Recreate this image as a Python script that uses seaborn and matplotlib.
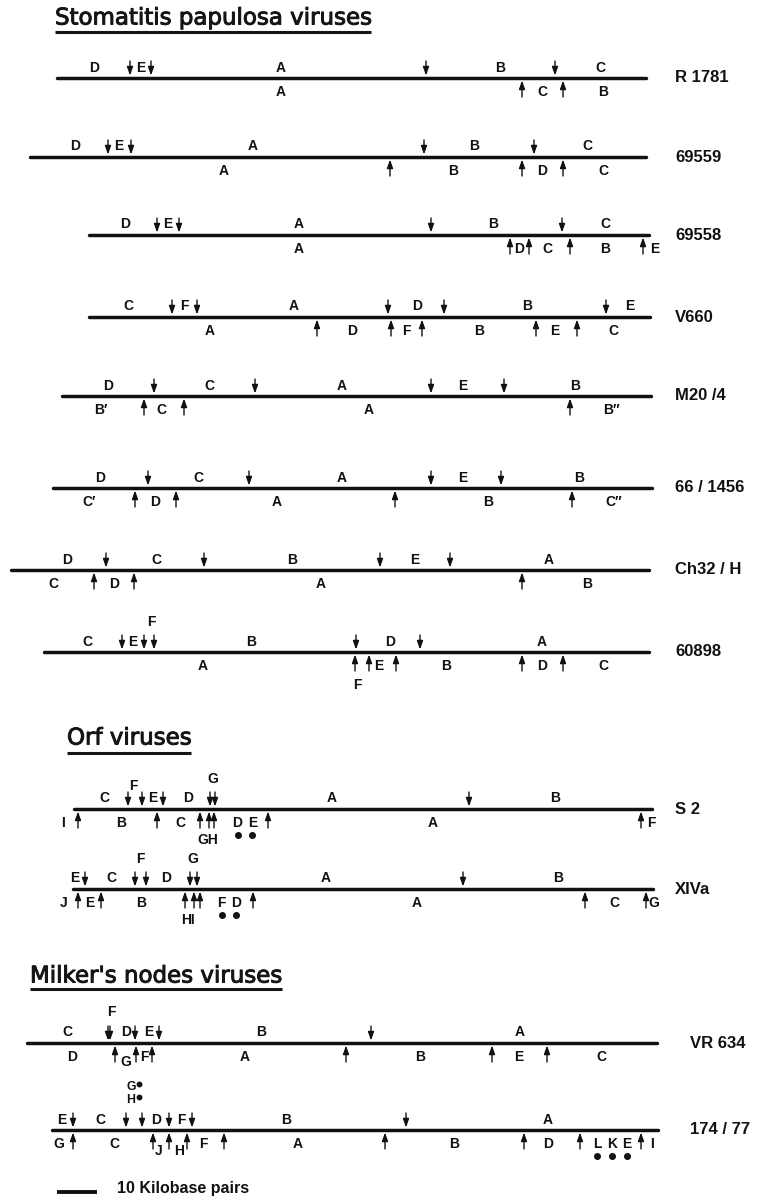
import matplotlib
matplotlib.use("Agg")
import matplotlib.pyplot as plt
import matplotlib.patheffects as pe
import seaborn as sns
import pandas as pd

# ---------------- data (map positions in kilobase pairs) ----------------
names = ["R 1781", "69559", "69558", "V660", "M20 /4", "66 / 1456", "Ch32 / H", "60898",
         "S 2", "XIVa", "VR 634", "174 / 77"]
groups = ["Stomatitis papulosa viruses", "Orf viruses", "Milker's nodes viruses"]
group_of = [0, 0, 0, 0, 0, 0, 0, 0, 1, 1, 2, 2]

spans = [(14.25, 161.5), (7.5, 161.5), (22.25, 162.25), (22.25, 162.5), (15.5, 162.75),
         (13.25, 163.0), (2.75, 162.25), (11.0, 162.25), (18.5, 163.0), (18.25, 163.25),
         (6.75, 164.25), (13.0, 164.5)]

# enzyme 1 cleavage sites (drawn above the line, arrows pointing down)
top_cuts = [
    [32.5, 37.75, 106.5, 138.75],
    [27.0, 32.75, 106.0, 133.5],
    [39.25, 44.75, 107.75, 140.5],
    [43.0, 49.25, 97.0, 111.0, 151.5],
    [38.5, 63.75, 107.75, 126.0],
    [37.0, 62.25, 107.75, 125.25],
    [26.5, 51.0, 95.0, 112.5],
    [30.5, 36.0, 38.5, 89.0, 105.0],
    [32.0, 35.5, 40.75, 52.5, 53.75, 117.25],
    [21.25, 33.75, 36.5, 47.5, 49.25, 115.75],
    [27.0, 27.5, 33.75, 39.75, 92.75],
    [18.25, 31.5, 35.5, 42.25, 48.0, 101.5],
]
# fragment names: (text, position, level, dots)
top_labels = [
    [("D", 23.5), ("E", 35.25), ("A", 70.25), ("B", 125.0), ("C", 150.0)],
    [("D", 18.75), ("E", 29.75), ("A", 63.25), ("B", 118.5), ("C", 146.75)],
    [("D", 31.25), ("E", 42.0), ("A", 74.75), ("B", 123.25), ("C", 151.25)],
    [("C", 32.0), ("F", 46.0), ("A", 73.5), ("D", 104.25), ("B", 131.75), ("E", 157.5)],
    [("D", 27.0), ("C", 52.25), ("A", 85.5), ("E", 115.75), ("B", 143.75)],
    [("D", 25.0), ("C", 49.5), ("A", 85.5), ("E", 115.75), ("B", 144.75)],
    [("D", 16.75), ("C", 39.0), ("B", 73.0), ("E", 103.75), ("A", 137.25)],
    [("C", 21.75), ("E", 33.25), ("F", 37.75, 1.4), ("B", 62.75), ("D", 97.5), ("A", 135.5)],
    [("C", 26.0), ("F", 33.25, 0.9), ("E", 38.25), ("D", 47.0), ("G", 53.25, 1.4),
     ("A", 83.0), ("B", 138.75)],
    [("E", 18.75), ("C", 27.75), ("F", 35.0, 1.4), ("D", 41.5), ("G", 48.25, 1.4),
     ("A", 81.5), ("B", 139.5)],
    [("C", 16.75), ("F", 27.75, 1.5), ("D", 31.5), ("E", 37.25), ("B", 65.25), ("A", 130.0)],
    [("E", 15.5), ("C", 25.0), ("G", 32.75, 2.35, "right"), ("H", 32.75, 1.4, "right"),
     ("D", 39.0), ("F", 45.25), ("B", 71.5), ("A", 137.0)],
]

# enzyme 2 cleavage sites (drawn below the line, arrows pointing up)
bot_cuts = [
    [130.5, 140.75],
    [97.5, 130.5, 140.75],
    [127.5, 132.25, 142.5, 160.75],
    [79.25, 97.75, 105.5, 134.0, 144.25],
    [36.0, 46.0, 142.5],
    [33.75, 44.0, 98.75, 143.0],
    [23.5, 33.5, 130.5],
    [88.75, 92.25, 99.0, 130.5, 140.75],
    [19.5, 39.25, 50.0, 52.25, 53.5, 67.0, 160.25],
    [19.5, 25.25, 46.25, 48.5, 50.0, 63.25, 146.25, 161.5],
    [28.75, 34.0, 38.0, 86.5, 123.0, 136.75],
    [18.25, 38.25, 42.25, 46.75, 56.0, 96.25, 131.0, 145.0, 160.25],
]
bot_labels = [
    [("A", 70.25), ("C", 135.5), ("B", 150.75)],
    [("A", 56.0), ("B", 113.25), ("D", 135.5), ("C", 150.75)],
    [("A", 74.75), ("D", 129.75), ("C", 136.75), ("B", 151.25), ("E", 163.6)],
    [("A", 52.5), ("D", 88.0), ("F", 101.5), ("B", 119.75), ("E", 138.75), ("C", 153.25)],
    [("B\u2032", 25.25), ("C", 40.25), ("A", 92.25), ("B\u2033", 152.75)],
    [("C\u2032", 22.25), ("D", 38.75), ("A", 69.25), ("B", 122.0), ("C\u2033", 153.5)],
    [("C", 13.25), ("D", 28.5), ("A", 80.25), ("B", 146.75)],
    [("A", 50.75), ("F", 89.25, 1.1), ("E", 94.75), ("B", 111.5), ("D", 135.5), ("C", 150.75)],
    [("I", 15.75), ("B", 30.25), ("C", 45.0), ("GH", 52.0, 1.0), ("DE", 61.25, 0, "below"),
     ("A", 108.25), ("F", 162.75)],
    [("J", 16.0), ("E", 22.5), ("B", 35.25), ("HI", 47.0, 1.0), ("FD", 57.25, 0, "below"),
     ("A", 104.25), ("C", 153.5), ("G", 163.4)],
    [("D", 18.0), ("G", 31.5, 0.3), ("F", 36.0), ("A", 61.25), ("B", 105.0), ("E", 129.75),
     ("C", 150.25)],
    [("G", 14.75), ("C", 28.5), ("J", 39.75, 0.4), ("H", 44.75, 0.4), ("F", 50.75),
     ("A", 74.5), ("B", 113.5), ("D", 137.0), ("LKE", 153.0, 0, "below"), ("I", 163.0)],
]

scale_kbp = 10
scale_label = "10 Kilobase pairs"

# ---------------- layout ----------------
row_y = [78, 157, 235, 317, 396, 488, 570, 652, 809, 889, 1043, 1130]
name_x = [168.75] * 10 + [172.5, 172.5]
header_pos = [(13.75, 18), (16.75, 738), (7.5, 976)]
underline_y = [32, 753, 989]
scale_pos = (14.25, 1192)
KBP_W = 194.0  # axis width in kbp (776 px)
SPREAD = 3.7   # kbp between letters of a dotted (unresolved) label group

sns.set_theme(style="white")
plt.rcParams["font.family"] = ["Liberation Sans", "DejaVu Sans"]

fig = plt.figure(figsize=(7.76, 12), dpi=100)
ax = fig.add_axes([0, 0, 1, 1])

# genome lines via seaborn
rows = []
for n, (a, b), y in zip(names, spans, row_y):
    rows.append({"virus": n, "kbp": a, "y": y})
    rows.append({"virus": n, "kbp": b, "y": y})
df = pd.DataFrame(rows)
sns.lineplot(data=df, x="kbp", y="y", units="virus", estimator=None, sort=False,
             color="#111111", linewidth=2.5, legend=False, ax=ax)

arrow_style = dict(arrowstyle="-|>,head_length=0.42,head_width=0.15", lw=1.0,
                   color="#111111", shrinkA=0, shrinkB=0)


def draw_arrow(x, y, up):
    if up:
        tail, tip = y + 19, y + 2.5
    else:
        tail, tip = y - 17, y - 2.5
    ax.annotate("", xy=(x, tip), xytext=(x, tail), arrowprops=arrow_style)


frag_font = dict(fontsize=10, fontweight="bold", ha="center", va="center", color="#111111")

for i, y in enumerate(row_y):
    for c in top_cuts[i]:
        draw_arrow(c, y, up=False)
    for c in bot_cuts[i]:
        draw_arrow(c, y, up=True)
    for lab in top_labels[i]:
        txt, pos = lab[0], lab[1]
        lvl = lab[2] if len(lab) > 2 else 0
        dots = lab[3] if len(lab) > 3 else None
        ty = y - 10.5 - lvl * 14
        if dots == "right":
            ax.text(pos, ty, txt, **{**frag_font, "fontsize": 8.8})
            ax.plot([pos + 2.0], [ty - 3], "o", color="#111111", ms=3.2)
        else:
            ax.text(pos, ty, txt, **frag_font)
    for lab in bot_labels[i]:
        txt, pos = lab[0], lab[1]
        lvl = lab[2] if len(lab) > 2 else 0
        dots = lab[3] if len(lab) > 3 else None
        ty = y + 14 + lvl * 17
        if dots == "below":
            n = len(txt)
            for k, ch in enumerate(txt):
                dx = (k - (n - 1) / 2) * SPREAD
                ax.text(pos + dx, ty, ch, **frag_font)
                ax.plot([pos + dx], [ty + 12], "o", color="#111111", ms=4.0)
        else:
            ax.text(pos, ty, txt, **frag_font)
    ax.text(name_x[i], y, names[i], fontsize=12, fontweight="bold", ha="left",
            va="center", color="#111111")

# group headers with underline
header_texts = []
for g, (hx, hy) in zip(groups, header_pos):
    t = ax.text(hx, hy, g, fontsize=16.5, ha="left", va="center", color="#151515",
                family=["DejaVu Sans"],
                path_effects=[pe.withStroke(linewidth=0.7, foreground="#151515")])
    header_texts.append(t)

# scale bar
ax.plot([scale_pos[0], scale_pos[0] + scale_kbp], [scale_pos[1], scale_pos[1]],
        color="#111111", lw=2.8, solid_capstyle="butt")
ax.text(scale_pos[0] + scale_kbp + 5, scale_pos[1] - 4, scale_label, fontsize=11.5,
        fontweight="bold", ha="left", va="center", color="#111111")

ax.set_xlim(0, KBP_W)
ax.set_ylim(1200, 0)
ax.axis("off")

fig.canvas.draw()
renderer = fig.canvas.get_renderer()
inv = ax.transData.inverted()
for t, uy in zip(header_texts, underline_y):
    bb = t.get_window_extent(renderer)
    (x0, _), (x1, _) = inv.transform([(bb.x0, bb.y0), (bb.x1, bb.y1)])
    ax.plot([x0, x1], [uy, uy], color="#151515", lw=2.2, solid_capstyle="butt")

fig.savefig("out.png", dpi=100, facecolor="white")
